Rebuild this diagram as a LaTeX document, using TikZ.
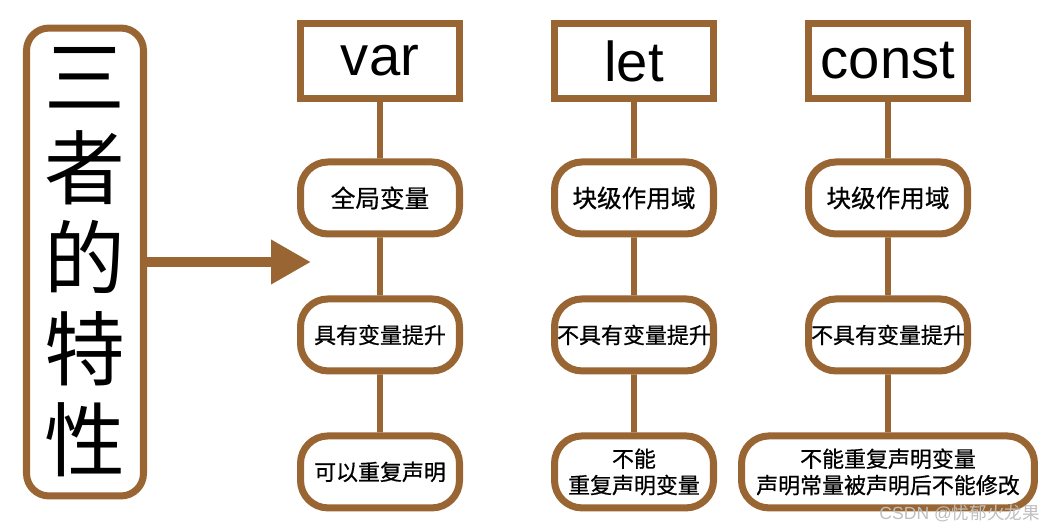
\documentclass[tikz,border=0pt]{standalone}
\usepackage{fontspec}
\setmainfont{Liberation Sans}
\newfontfamily\cjk{Noto Sans CJK SC}
\newfontfamily\cjkheavy[FakeBold=0.7]{Noto Sans CJK SC}
\usetikzlibrary{arrows.meta}
\definecolor{bark}{HTML}{996633}

\begin{document}
\begin{tikzpicture}[
  x=0.02cm, y=-0.02cm,
  kwbox/.style={rectangle, draw=bark, line width=4pt, minimum width=3.18cm,
    minimum height=1.5cm, inner sep=0pt, font=\fontsize{32}{36}\selectfont},
  propbox/.style={rectangle, rounded corners=0.55cm, draw=bark, line width=4pt,
    minimum width=3.18cm, minimum height=1.44cm, inner sep=0pt, align=center,
    font=\cjkheavy\fontsize{12.5}{15}\selectfont},
  scopebox/.style={propbox, font=\cjkheavy\fontsize{14}{16}\selectfont},
  sidebox/.style={rectangle, rounded corners=0.45cm, draw=bark, line width=4pt,
    minimum width=2.34cm, minimum height=9.36cm, inner sep=0pt, align=center,
    font=\cjk\fontsize{46}{51.6}\selectfont},
  level distance=2.74cm,
  edge from parent/.style={draw=bark, line width=3.4pt}
]
  \useasboundingbox (0,0) rectangle (1059,531);

  % left side
  \node[sidebox] (side) at (85,262) {三\\者\\的\\特\\性};
  \coordinate (tip) at (311,262);
  \draw[bark, line width=5.7pt, -{Triangle[length=0.8cm, width=0.84cm]}] (side.east) -- (tip);

  % var
  \node[kwbox] (var) at (380,61) {var}
    child { node[scopebox] (var1) {全局变量}
      child { node[propbox] (var2) {具有变量提升}
        child { node[propbox] (var3) {可以重复声明} }
      }
    };

  % let
  \node[kwbox] (let) at (634,61) {let}
    child { node[scopebox] (let1) {块级作用域}
      child { node[propbox] (let2) {不具有变量提升}
        child { node[propbox] (let3) {不能\\重复声明变量} }
      }
    };

  % const
  \node[kwbox] (const) at (888,61) {const}
    child { node[scopebox] (const1) {块级作用域}
      child { node[propbox] (const2) {不具有变量提升}
        child { node[propbox, minimum width=5.86cm] (const3) {不能重复声明变量\\声明常量被声明后不能修改} }
      }
    };

  \node[anchor=east, text=gray!50, font=\fontsize{10}{12}\selectfont] (mark) at (1046,513) {CSDN @{\cjk 忧郁火龙果}};
\end{tikzpicture}
\end{document}
